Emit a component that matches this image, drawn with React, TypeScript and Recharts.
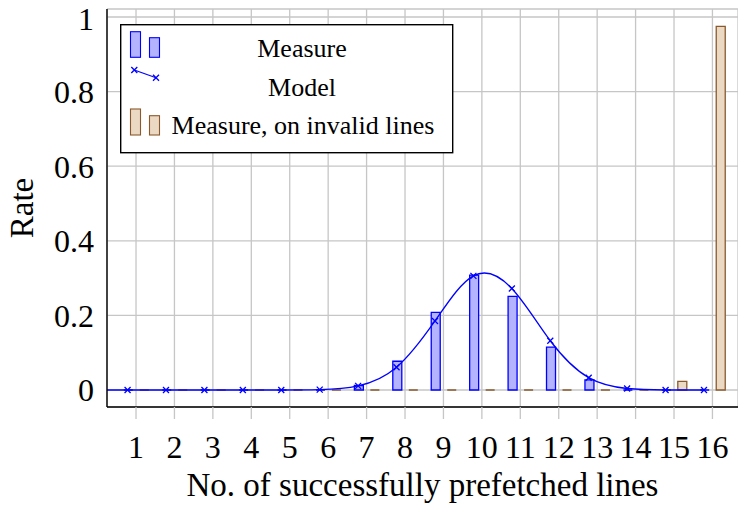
import { Bar, CartesianGrid, ComposedChart, Legend, Line, XAxis, YAxis } from 'recharts';

const categories = [1, 2, 3, 4, 5, 6, 7, 8, 9, 10, 11, 12, 13, 14, 15, 16];
const measure = [0, 0, 0, 0, 0, 0, 0.012, 0.077, 0.208, 0.308, 0.251, 0.115, 0.027, 0, 0, 0];
const invalidLines = [0, 0, 0, 0, 0, 0, 0, 0, 0, 0, 0, 0, 0, 0, 0.023, 0.975];
const modelX = [0, 1, 2, 3, 4, 5, 6, 7, 8, 9, 10, 11, 12, 13, 14, 15, 16];
const model = [0, 0, 0, 0, 0, 0, 0.001, 0.011, 0.061, 0.185, 0.306, 0.272, 0.132, 0.033, 0.004, 0, 0];
const yTicks = [0, 0.2, 0.4, 0.6, 0.8, 1];

const rows = categories.map((x, i) => ({ x, measure: measure[i], invalid: invalidLines[i] }));
const modelRows = modelX.map((x, i) => ({ x, model: model[i] }));

const X_MIN = 0.245;
const X_MAX = 16.665;
const MODEL_SHIFT = 0.22; // model marks sit over the measure bars
const FONT = '"Liberation Serif", "Times New Roman", serif';
const BLUE = '#0000ff';
const BLUE_FILL = '#b3b3ff';
const BROWN = '#8a5a2e';
const BROWN_FILL = '#ecd9c4';
const GRID = '#c6c6c6';

// bar drawn as a path so zero-height bars still show their outline
const BarShape = (props: any) => {
  const { x, y, width, height, fill, stroke } = props;
  if (x == null || y == null) return null;
  return (
    <path
      d={`M${x},${y}h${width}v${height}h${-width}Z`}
      fill={fill}
      stroke={stroke}
      strokeWidth={1.3}
    />
  );
};

const Cross = (props: any) => {
  const { cx, cy } = props;
  if (cx == null || cy == null) return null;
  const r = 3;
  return (
    <path
      key={`m-${cx}`}
      d={`M${cx - r},${cy - r}L${cx + r},${cy + r}M${cx - r},${cy + r}L${cx + r},${cy - r}`}
      stroke={BLUE}
      strokeWidth={1.3}
      fill="none"
    />
  );
};

const LegendBox = () => (
  <svg width={334} height={130} style={{ display: 'block' }}>
    <rect x={0.7} y={0.7} width={332} height={128} fill="#fff" stroke="#000" strokeWidth={1.4} />
    <rect x={10.5} y={7.7} width={10} height={25.6} fill={BLUE_FILL} stroke={BLUE} strokeWidth={1.1} />
    <rect x={29.5} y={13.7} width={10} height={19.6} fill={BLUE_FILL} stroke={BLUE} strokeWidth={1.1} />
    <text x={182} y={32.5} textAnchor="middle" fontFamily={FONT} fontSize={26}>Measure</text>
    <line x1={14.3} y1={46} x2={36} y2={53.7} stroke={BLUE} strokeWidth={1.2} />
    <Cross cx={14.3} cy={46} />
    <Cross cx={36} cy={53.7} />
    <text x={182} y={71.5} textAnchor="middle" fontFamily={FONT} fontSize={26}>Model</text>
    <rect x={10.5} y={85} width={10} height={26} fill={BROWN_FILL} stroke={BROWN} strokeWidth={1.1} />
    <rect x={29.5} y={91.7} width={10} height={19.3} fill={BROWN_FILL} stroke={BROWN} strokeWidth={1.1} />
    <text x={183} y={110.3} textAnchor="middle" fontFamily={FONT} fontSize={26}>Measure, on invalid lines</text>
  </svg>
);

const RateLabel = () => (
  <text x={33} y={208} transform="rotate(-90, 33, 208)" textAnchor="middle" fontFamily={FONT} fontSize={33} fill="#000">
    Rate
  </text>
);

export default function App() {
  const tickStyle = { fontFamily: FONT, fontSize: 32, fill: '#000' };
  return (
    <div style={{ position: 'absolute', left: 0, top: 0, width: 738, height: 505, overflow: 'hidden', background: '#fff' }}>
      <ComposedChart
        width={738}
        height={505}
        data={rows}
        margin={{ top: 9, right: 0, bottom: 0, left: 0 }}
        barGap={7}
      >
        <CartesianGrid stroke={GRID} strokeWidth={1.3} />
        <XAxis
          type="number"
          dataKey="x"
          domain={[X_MIN, X_MAX]}
          ticks={categories}
          allowDataOverflow
          height={98}
          tickSize={12}
          tickMargin={16}
          tickLine={{ stroke: GRID, strokeWidth: 1.3 }}
          axisLine={{ stroke: '#000', strokeWidth: 1.4 }}
          tick={tickStyle}
          interval={0}
          label={{ value: 'No. of successfully prefetched lines', position: 'insideBottom', offset: 9, style: { fontFamily: FONT, fontSize: 33, fill: '#000' } }}
        />
        <XAxis
          xAxisId="top"
          orientation="top"
          type="number"
          dataKey="x"
          domain={[X_MIN, X_MAX]}
          ticks={categories}
          allowDataOverflow
          height={0}
          tickSize={12}
          tick={false}
          tickLine={{ stroke: GRID, strokeWidth: 1.3 }}
          axisLine={{ stroke: '#222', strokeWidth: 1.4 }}
        />
        <XAxis
          xAxisId="model"
          type="number"
          dataKey="x"
          domain={[X_MIN + MODEL_SHIFT, X_MAX + MODEL_SHIFT]}
          allowDataOverflow
          hide
        />
        <YAxis
          type="number"
          domain={[-0.0456, 1.0214]}
          ticks={yTicks}
          allowDataOverflow
          width={107}
          tickSize={0}
          tickMargin={13}
          tickLine={false}
          axisLine={{ stroke: '#000', strokeWidth: 1.4 }}
          tick={tickStyle}
          tickFormatter={(v: number) => String(v)}
          label={{ content: () => <RateLabel /> }}
        />
        <Bar dataKey="measure" name="Measure" barSize={9} fill={BLUE_FILL} stroke={BLUE} shape={BarShape} isAnimationActive={false} />
        <Bar dataKey="invalid" name="Measure, on invalid lines" barSize={9} fill={BROWN_FILL} stroke={BROWN} shape={BarShape} isAnimationActive={false} />
        <Line
          xAxisId="model"
          data={modelRows}
          dataKey="model"
          name="Model"
          type="natural"
          stroke={BLUE}
          strokeWidth={1.3}
          dot={<Cross />}
          activeDot={false}
          isAnimationActive={false}
        />
        <Legend
          layout="horizontal"
          verticalAlign="middle"
          align="center"
          content={() => <LegendBox />}
          wrapperStyle={{ position: 'absolute', left: 120, top: 24, width: 334, height: 130 }}
        />
      </ComposedChart>
    </div>
  );
}
